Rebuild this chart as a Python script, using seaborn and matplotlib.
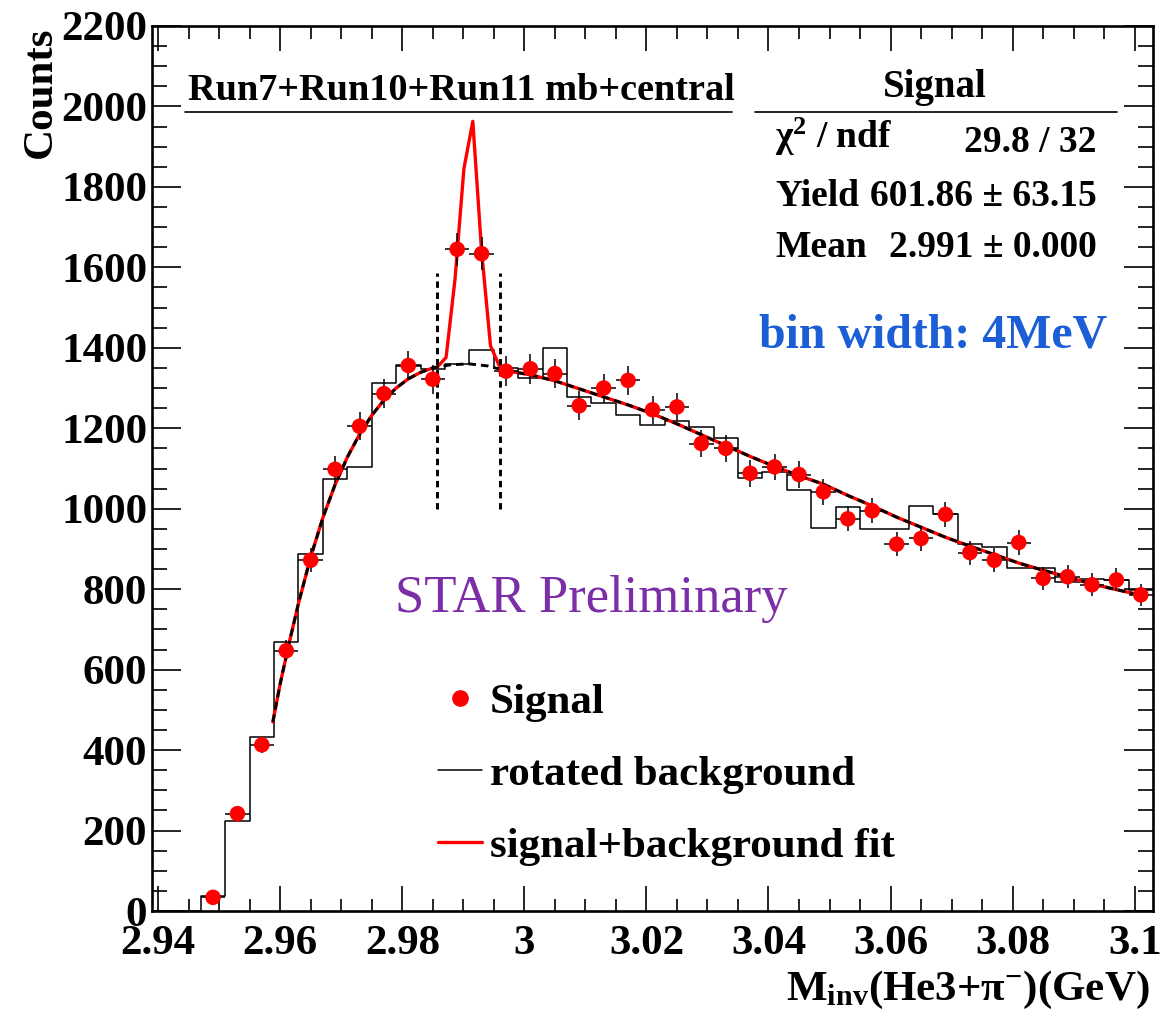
import numpy as np
import pandas as pd
import matplotlib
matplotlib.use("Agg")
import matplotlib.pyplot as plt
import seaborn as sns
from matplotlib.lines import Line2D
from matplotlib.ticker import FixedLocator, MultipleLocator

# ---------------- data ----------------
bin_width = 0.004  # GeV (4 MeV)
hist_range = (2.939, 3.103)

sig_x = [2.949, 2.953, 2.957, 2.961, 2.965, 2.969, 2.973, 2.977, 2.981, 2.985,
         2.989, 2.993, 2.997, 3.001, 3.005, 3.009, 3.013, 3.017, 3.021, 3.025,
         3.029, 3.033, 3.037, 3.041, 3.045, 3.049, 3.053, 3.057, 3.061, 3.065,
         3.069, 3.073, 3.077, 3.081, 3.085, 3.089, 3.093, 3.097, 3.101]
sig_counts = [34, 242, 413, 647, 872, 1098, 1205, 1286, 1356, 1322,
              1645, 1634, 1342, 1348, 1336, 1256, 1300, 1319, 1246, 1253,
              1162, 1150, 1088, 1104, 1085, 1042, 975, 995, 912, 926,
              986, 891, 872, 916, 827, 831, 811, 823, 786]

bkg_hist_x = [2.941, 2.945] + sig_x
bkg_hist_counts = [0, 0, 37, 224, 433, 668, 887, 1075, 1104, 1312,
                   1358, 1348, 1361, 1395, 1350, 1324, 1399, 1278, 1262, 1234,
                   1207, 1218, 1203, 1177, 1077, 1092, 1047, 953, 1005, 950,
                   950, 1008, 987, 913, 905, 853, 853, 818, 825, 822, 797]

# background fit function (black dashed)
bkg_fit_x = [2.9588, 2.9600, 2.9615, 2.9630, 2.9650, 2.9670, 2.9690, 2.9710, 2.9730,
             2.9750, 2.9770, 2.9790, 2.9810, 2.9830, 2.9850, 2.9880, 2.9910, 2.9940,
             2.9970, 3.0010, 3.0050, 3.0090, 3.0130, 3.0170, 3.0210, 3.0250, 3.0290,
             3.0330, 3.0370, 3.0410, 3.0450, 3.0490, 3.0530, 3.0570, 3.0610, 3.0650,
             3.0690, 3.0730, 3.0770, 3.0810, 3.0850, 3.0890, 3.0930, 3.0970, 3.1010]
bkg_fit_y = [470, 565, 668, 765, 880, 978, 1060, 1128, 1185,
             1232, 1270, 1300, 1323, 1339, 1350, 1358, 1360, 1355,
             1343, 1333, 1318, 1298, 1278, 1258, 1236, 1211, 1184,
             1157, 1130, 1105, 1082, 1061, 1033, 1007, 979, 954,
             929, 907, 886, 865, 847, 830, 813, 799, 785]

# signal peak part of the signal+background fit (red)
peak_fit_x = [2.98573, 2.98718, 2.98864, 2.99010, 2.99156, 2.99300, 2.99446, 2.99591]
peak_fit_y = [1352, 1376, 1570, 1845, 1963, 1640, 1405, 1355]

# signal window markers
window_x = [2.9857, 2.9960]
window_y = [1000, 1585]

x_ticks = [2.94, 2.96, 2.98, 3.00, 3.02, 3.04, 3.06, 3.08, 3.10]
x_tick_labels = ["2.94", "2.96", "2.98", "3", "3.02", "3.04", "3.06", "3.08", "3.1"]
y_ticks = [0, 200, 400, 600, 800, 1000, 1200, 1400, 1600, 1800, 2000, 2200]
y_tick_labels = [str(v) for v in y_ticks]

title_text = "Run7+Run10+Run11 mb+central"
stats_title = "Signal"
stats_names = ["χ$^{\\mathrm{2}}$ / ndf", "Yield", "Mean"]
stats_values = ["29.8 / 32", "601.86 ± 63.15", "2.991 ± 0.000"]
legend_labels = ["Signal", "rotated background", "signal+background fit"]

# ---------------- style ----------------
sns.set_style("ticks")
plt.rcParams.update({
    "font.family": ["Liberation Serif", "DejaVu Serif"],
    "font.weight": "bold",
    "mathtext.fontset": "custom",
    "mathtext.rm": "Liberation Serif:bold",
    "mathtext.bf": "Liberation Serif:bold",
    "mathtext.it": "Liberation Serif:bold:italic",
    "text.color": "black",
    "axes.edgecolor": "black",
    "xtick.color": "black",
    "ytick.color": "black",
    "axes.linewidth": 1.9,
})

W, H = 1162, 1025
fig = plt.figure(figsize=(W / 100, H / 100), dpi=100)
fx = lambda px: px / W
fy = lambda py: 1 - py / H
ax = fig.add_axes([fx(152), fy(911), (1153 - 152) / W, (911 - 26) / H])

# rotated background histogram
hist_df = pd.DataFrame({"mass": bkg_hist_x, "counts": bkg_hist_counts})
sns.histplot(data=hist_df, x="mass", weights="counts", binwidth=bin_width, binrange=hist_range,
             element="step", fill=False, color="black", linewidth=1.1, ax=ax)

# signal + background fit (red), background fit (black dashed)
red_x = [v for v in bkg_fit_x if v < peak_fit_x[0]] + peak_fit_x + [v for v in bkg_fit_x if v > peak_fit_x[-1]]
red_y = ([y for v, y in zip(bkg_fit_x, bkg_fit_y) if v < peak_fit_x[0]] + peak_fit_y +
         [y for v, y in zip(bkg_fit_x, bkg_fit_y) if v > peak_fit_x[-1]])
sns.lineplot(x=red_x, y=red_y, color="red", linewidth=2.4, estimator=None, sort=False, ax=ax, zorder=3)
sns.lineplot(x=bkg_fit_x, y=bkg_fit_y, color="black", linewidth=2.1, linestyle=(0, (2.6, 1.7)),
             estimator=None, sort=False, ax=ax, zorder=3)

# signal window lines
ax.vlines(window_x, window_y[0], window_y[1], colors="black", linestyles=(0, (2.2, 1.6)),
          linewidth=2.1, zorder=3)

# signal points with error bars
ax.errorbar(sig_x, sig_counts, yerr=np.sqrt(sig_counts), xerr=bin_width / 2, fmt="none",
            ecolor="black", elinewidth=1.1, capsize=0, zorder=4)
sns.scatterplot(x=sig_x, y=sig_counts, color="red", s=125, edgecolor="none", ax=ax, zorder=5)

# axes
ax.set_xlim(*hist_range)
ax.set_ylim(0, 2200)
ax.xaxis.set_major_locator(FixedLocator(x_ticks))
ax.set_xticklabels(x_tick_labels)
ax.xaxis.set_minor_locator(MultipleLocator(0.005))
ax.yaxis.set_major_locator(FixedLocator(y_ticks))
ax.set_yticklabels(y_tick_labels)
ax.yaxis.set_minor_locator(MultipleLocator(50))
ax.set_xlabel("")
ax.set_ylabel("")
for s in ax.spines.values():
    s.set_visible(True)
    s.set_linewidth(1.9)
ax.tick_params(axis="both", which="both", direction="in", top=True, right=True, width=1.2,
               labelsize=31)
ax.tick_params(axis="y", which="major", length=21, pad=3.5)
ax.tick_params(axis="y", which="minor", length=10.5)
ax.tick_params(axis="x", which="major", length=18, pad=10)
ax.tick_params(axis="x", which="minor", length=9)

# axis titles
fig.text(fx(41), fy(27), "Counts", rotation=90, ha="center", va="top", fontsize=31)
fig.text(fx(1150), fy(1000), "M$_{\\mathrm{inv}}$(He3+π$^{\\mathrm{-}}$)(GeV)", ha="right",
         va="baseline", fontsize=31)

# title box and stats box
fig.text(fx(461), fy(100), title_text, ha="center", va="baseline", fontsize=27.5)
fig.add_artist(Line2D([fx(185), fx(732)], [fy(112), fy(112)], color="black", lw=1.2))
fig.text(fx(935), fy(97), stats_title, ha="center", va="baseline", fontsize=28)
fig.add_artist(Line2D([fx(755), fx(1117)], [fy(112), fy(112)], color="black", lw=1.2))
name_base = [148, 206.5, 257]
value_base = [152.5, 206.5, 257]
for nm, val, nb, vb in zip(stats_names, stats_values, name_base, value_base):
    fig.text(fx(775), fy(nb), nm, ha="left", va="baseline", fontsize=27)
    fig.text(fx(1097), fy(vb), val, ha="right", va="baseline", fontsize=27)

fig.text(fx(933), fy(347), "bin width: 4MeV", ha="center", va="baseline", fontsize=34.5,
         color="#1b5ed6")
fig.text(fx(591), fy(612), "STAR Preliminary", ha="center", va="baseline", fontsize=38,
         color="#7b2ea6", fontweight="normal")

# legend
handles = [Line2D([], [], marker="o", color="red", linestyle="none", markersize=11),
           Line2D([], [], color="black", lw=1.1),
           Line2D([], [], color="red", lw=2.4)]
ax.legend(handles, legend_labels, loc="upper left", bbox_to_anchor=(fx(438), fy(683)),
          bbox_transform=fig.transFigure, frameon=False, fontsize=31, handlelength=1.02,
          handletextpad=0.19, labelspacing=0.76, borderpad=0, borderaxespad=0)

fig.savefig("out.png", dpi=100)
